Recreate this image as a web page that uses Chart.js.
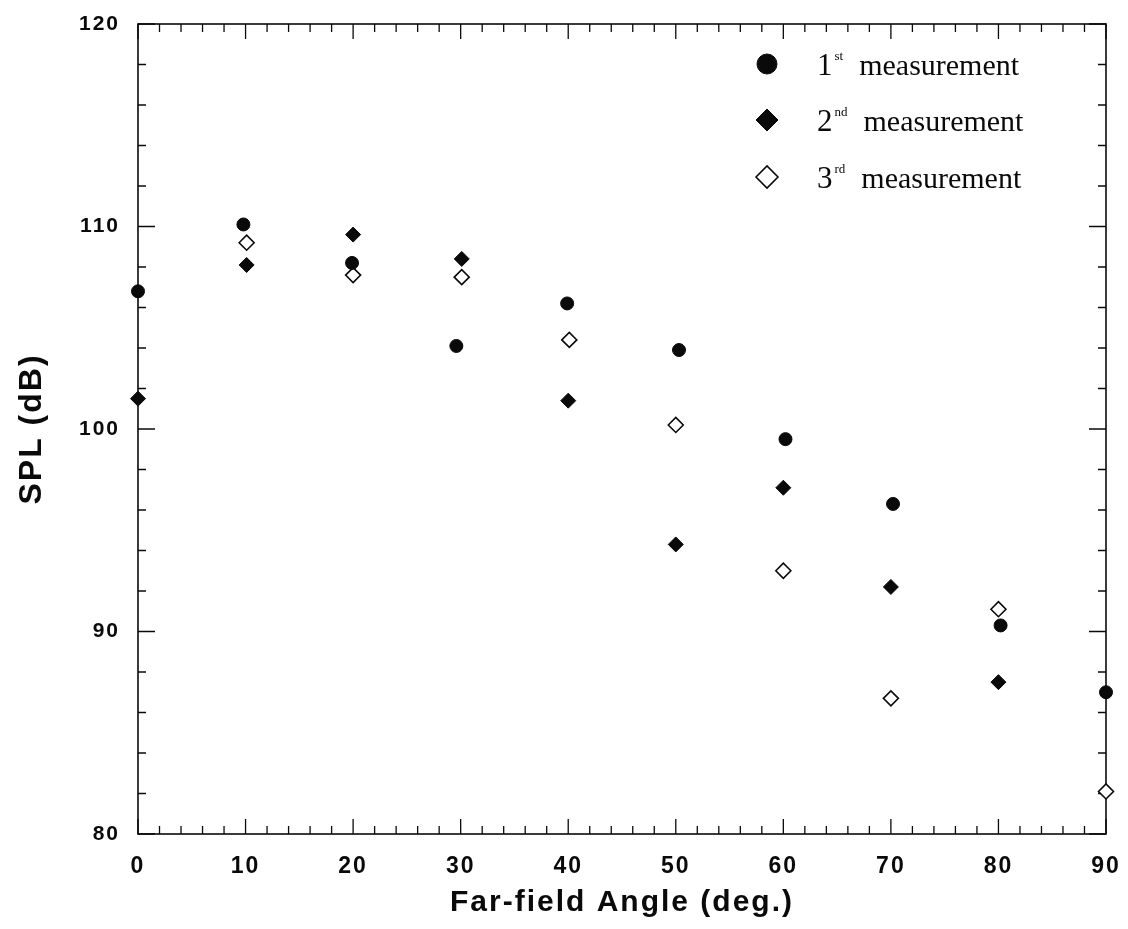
<!DOCTYPE html>
<html>
<head>
<meta charset="utf-8">
<script src="https://cdn.jsdelivr.net/npm/chart.js@4.4.1/dist/chart.umd.min.js"></script>
<style>
  html, body { margin: 0; padding: 0; background: #fff; }
  #wrap { width: 1128px; height: 929px; }
</style>
</head>
<body>
<div id="wrap"><canvas id="myChart"></canvas></div>
<script>
// SPL vs far-field angle, three runs of the same measurement
const angles1 = [0, 9.8, 19.9, 29.6, 39.9, 50.3, 60.2, 70.2, 80.2, 90];
const spl1    = [106.8, 110.1, 108.2, 104.1, 106.2, 103.9, 99.5, 96.3, 90.3, 87.0];

const angles2 = [0, 10.1, 20, 30.1, 40, 50, 60, 70, 80];
const spl2    = [101.5, 108.1, 109.6, 108.4, 101.4, 94.3, 97.1, 92.2, 87.5];

const angles3 = [10.1, 20, 30.1, 40.1, 50, 60, 70, 80, 90];
const spl3    = [109.2, 107.6, 107.5, 104.4, 100.2, 93.0, 86.7, 91.1, 82.1];

const runNumbers  = ['1', '2', '3'];
const runSuffixes = ['st', 'nd', 'rd'];
const runStyles   = ['circle', 'rectRot', 'rectRot'];

const xRange = [0, 90];
const yRange = [80, 120];
const xMajor = 10, xMinor = 2;
const yMajor = 10, yMinor = 2;

const toPoints = (xs, ys) => xs.map((x, i) => ({x: x, y: ys[i]}));

const INK = '#0a0a0a';
const sansBold = (size) => ({family: '"Liberation Sans", Arial, Helvetica, sans-serif', weight: 'bold', size: size});
const serif = (size) => size + 'px "Liberation Serif", "Times New Roman", serif';

// box round the plot with inward ticks on all four sides, plus the legend
const frameTicks = {
    id: 'frameTicks',
    beforeDraw(chart) {
        // wide tracking for the axis lettering
        chart.ctx.letterSpacing = '2px';
    },
    beforeDatasetsDraw(chart) {
        const ctx = chart.ctx;
        const {left, right, top, bottom} = chart.chartArea;
        const xs = chart.scales.x, ys = chart.scales.y;
        ctx.save();
        ctx.strokeStyle = INK;
        ctx.lineWidth = 1.6;
        ctx.strokeRect(left, top, right - left, bottom - top);
        ctx.lineWidth = 1.3;
        ctx.beginPath();
        for (let v = xRange[0]; v <= xRange[1]; v += xMinor) {
            const px = xs.getPixelForValue(v);
            const len = v % xMajor === 0 ? 15 : 8;
            ctx.moveTo(px, bottom); ctx.lineTo(px, bottom - len);
            ctx.moveTo(px, top);    ctx.lineTo(px, top + len);
        }
        for (let v = yRange[0]; v <= yRange[1]; v += yMinor) {
            const py = ys.getPixelForValue(v);
            const len = v % yMajor === 0 ? 17 : 8;
            ctx.moveTo(left, py);  ctx.lineTo(left + len, py);
            ctx.moveTo(right, py); ctx.lineTo(right - len, py);
        }
        ctx.stroke();
        ctx.restore();
    },
    afterDraw(chart) {
        // legend in the upper right, with superscript ordinals
        const ctx = chart.ctx;
        const {right, top} = chart.chartArea;
        const markX = right - 339;
        const textX = markX + 50;
        const rowY = [top + 40, top + 96, top + 153];
        ctx.save();
        ctx.letterSpacing = '0px';
        chart.data.datasets.forEach((ds, i) => {
            const y = rowY[i];
            ctx.fillStyle = ds.backgroundColor;
            ctx.strokeStyle = INK;
            ctx.lineWidth = ds.borderWidth;
            Chart.helpers.drawPoint(ctx, {
                pointStyle: ds.pointStyle,
                radius: ds.pointStyle === 'circle' ? 10 : 11,
                rotation: 0,
                borderWidth: ds.borderWidth
            }, markX, y);

            ctx.fillStyle = INK;
            ctx.textBaseline = 'alphabetic';
            ctx.textAlign = 'left';
            ctx.font = serif(31);
            ctx.fillText(runNumbers[i], textX, y + 11);
            let x = textX + ctx.measureText(runNumbers[i]).width + 2;
            ctx.font = serif(13);
            ctx.fillText(runSuffixes[i], x, y - 4);
            x += ctx.measureText(runSuffixes[i]).width + 16;
            ctx.font = serif(30);
            ctx.fillText('measurement', x, y + 11);
        });
        ctx.restore();
    }
};

const makeSet = (label, xs, ys, i) => ({
    label: label,
    data: toPoints(xs, ys),
    pointStyle: runStyles[i],
    pointRadius: runStyles[i] === 'circle' ? 6.5 : 7.5,
    pointHoverRadius: runStyles[i] === 'circle' ? 6.5 : 7.5,
    backgroundColor: i === 2 ? '#ffffff' : INK,
    borderColor: INK,
    borderWidth: i === 2 ? 1.6 : 1,
    showLine: false,
    clip: false
});

window.addEventListener('DOMContentLoaded', () => {
    const ctx = document.getElementById('myChart').getContext('2d');
    new Chart(ctx, {
        type: 'scatter',
        data: {
            datasets: [
                makeSet('1st measurement', angles1, spl1, 0),
                makeSet('2nd measurement', angles2, spl2, 1),
                makeSet('3rd measurement', angles3, spl3, 2)
            ]
        },
        options: {
            responsive: true,
            maintainAspectRatio: false,
            animation: false,
            events: [],
            layout: { padding: { left: 0, top: 24, right: 22, bottom: 0 } },
            plugins: {
                legend: { display: false },
                tooltip: { enabled: false }
            },
            scales: {
                x: {
                    type: 'linear',
                    min: xRange[0],
                    max: xRange[1],
                    afterFit: (s) => { s.height = 95; s.paddingLeft = 0; s.paddingRight = 0; },
                    grid: { display: false, drawTicks: false },
                    border: { display: false },
                    ticks: { stepSize: xMajor, padding: 19, color: INK, font: sansBold(23) },
                    title: {
                        display: true,
                        text: 'Far-field Angle (deg.)',
                        color: INK,
                        font: sansBold(30),
                        padding: { top: 0, bottom: 8 }
                    }
                },
                y: {
                    type: 'linear',
                    min: yRange[0],
                    max: yRange[1],
                    afterFit: (s) => { s.width = 138; s.paddingTop = 0; s.paddingBottom = 0; },
                    grid: { display: false, drawTicks: false },
                    border: { display: false },
                    ticks: { stepSize: yMajor, padding: 18, color: INK, font: sansBold(21) },
                    title: {
                        display: true,
                        text: 'SPL (dB)',
                        color: INK,
                        font: sansBold(32),
                        padding: { top: 13, bottom: 0 }
                    }
                }
            }
        },
        plugins: [frameTicks]
    });
});
</script>
</body>
</html>
